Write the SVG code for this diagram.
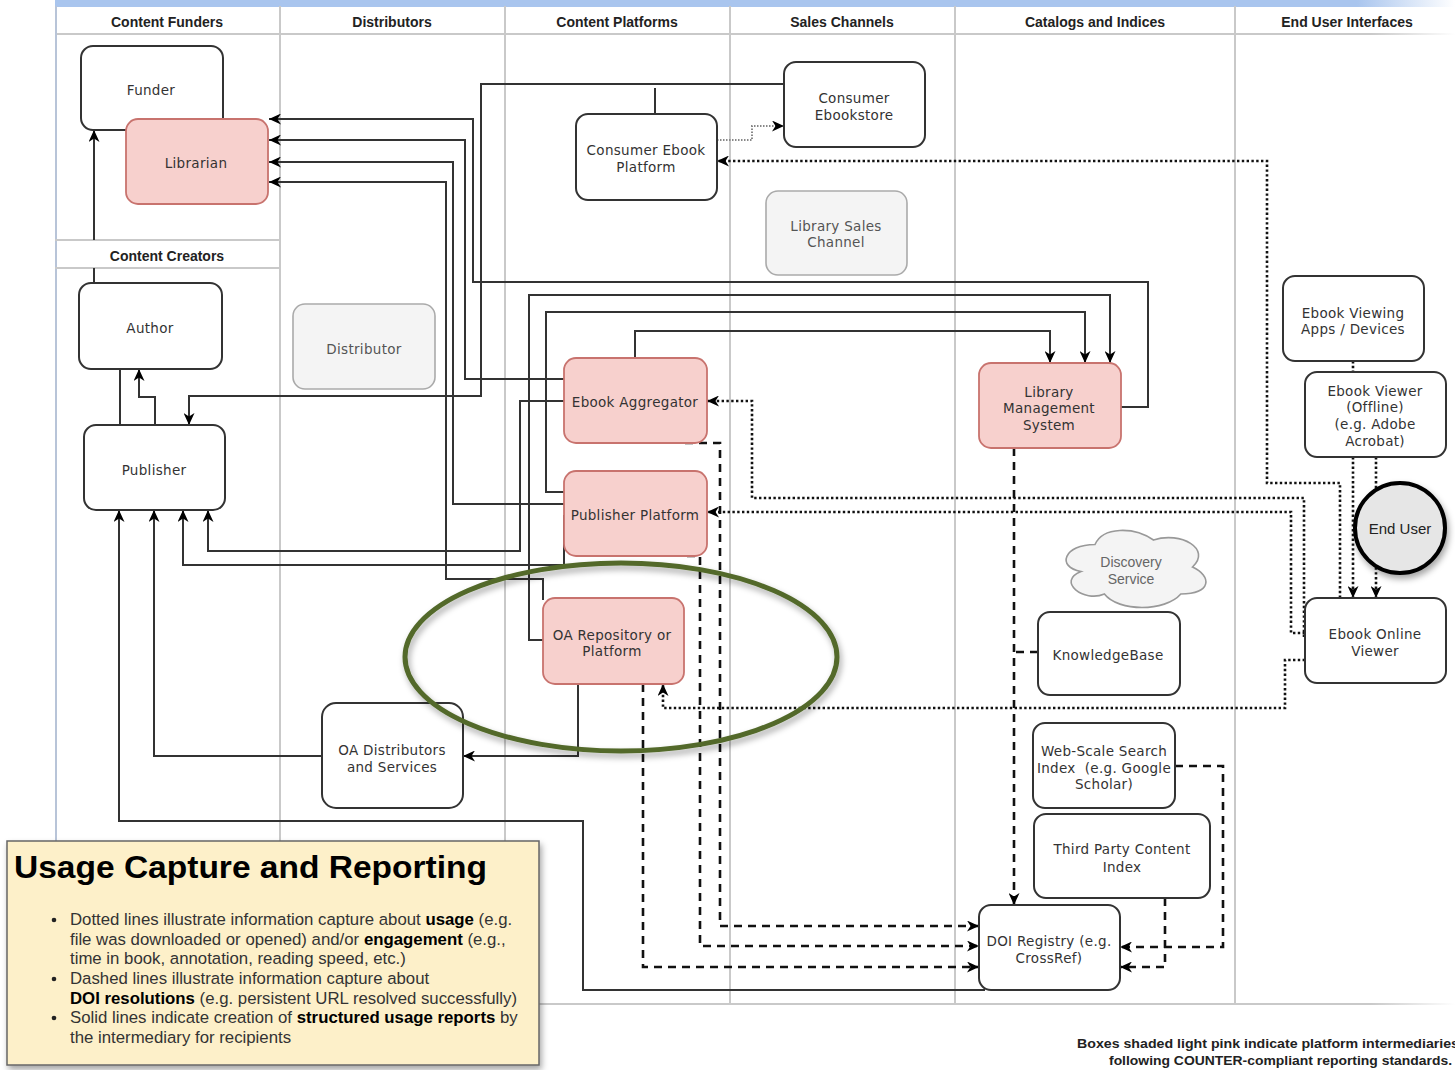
<svg xmlns="http://www.w3.org/2000/svg" width="1455" height="1070" viewBox="0 0 1455 1070">
<style>
.lane{stroke:#c9c9c9;stroke-width:2;fill:none}
.hdr{font-family:"Liberation Sans",Arial,sans-serif;font-weight:bold;font-size:14px;fill:#222;text-anchor:middle}
.n{fill:#fff;stroke:#333;stroke-width:2}
.pk{fill:#f7d0cd;stroke:#c8736e;stroke-width:1.8}
.gr{fill:#f4f4f4;stroke:#aaa;stroke-width:1.6}
.t{font-family:"DejaVu Sans",Verdana,sans-serif;font-size:13.5px;fill:#333;text-anchor:middle;letter-spacing:0.3px}
.tg{font-family:"DejaVu Sans",Verdana,sans-serif;font-size:13.5px;fill:#555;text-anchor:middle;letter-spacing:0.3px}
.sol{fill:none;stroke:#333;stroke-width:2}
.dot{fill:none;stroke:#111;stroke-width:2.6;stroke-dasharray:2.4 2.4}
.dsh{fill:none;stroke:#111;stroke-width:2.6;stroke-dasharray:8 6}
.lg{font-family:"Liberation Sans",Arial,sans-serif;font-size:16.8px;fill:#333}
.lg tspan.b{font-weight:bold;fill:#000}
.ft{font-family:"Liberation Sans",Arial,sans-serif;font-size:13.5px;font-weight:bold;fill:#222}
</style>
<defs>
<marker id="a" viewBox="0 0 12 11" refX="12" refY="5.5" markerWidth="12" markerHeight="11" markerUnits="userSpaceOnUse" orient="auto"><path d="M0,0 L12,5.5 L0,11 L3.5,5.5 Z" fill="#000"/></marker>
<linearGradient id="bar" x1="0" x2="1" y1="0" y2="0"><stop offset="0" stop-color="#a9c5ee"/><stop offset="0.93" stop-color="#a9c5ee"/><stop offset="1" stop-color="#ffffff"/></linearGradient>
<linearGradient id="hl" x1="0" x2="1" y1="0" y2="0"><stop offset="0" stop-color="#c9c9c9"/><stop offset="0.94" stop-color="#c9c9c9"/><stop offset="1" stop-color="#ffffff"/></linearGradient>
<filter id="sh" x="-20%" y="-20%" width="140%" height="150%"><feDropShadow dx="2" dy="4" stdDeviation="3" flood-color="#000" flood-opacity="0.35"/></filter>
</defs>
<rect width="1455" height="1070" fill="#fff"/>

<g id="lanes">
<rect x="55" y="0" width="1400" height="7" fill="url(#bar)"/>
<rect x="55" y="33" width="1400" height="2" fill="url(#hl)"/>
<rect x="55" y="1003" width="1400" height="2" fill="url(#hl)"/>
<line class="lane" x1="56" y1="6" x2="56" y2="1005" style="stroke:#b8c4d8"/>
<line class="lane" x1="280" y1="6" x2="280" y2="1005"/>
<line class="lane" x1="505" y1="6" x2="505" y2="1005"/>
<line class="lane" x1="730" y1="6" x2="730" y2="1005"/>
<line class="lane" x1="955" y1="6" x2="955" y2="1005"/>
<line class="lane" x1="1235" y1="6" x2="1235" y2="1005"/>
<line class="lane" x1="55" y1="240" x2="280" y2="240"/>
<line class="lane" x1="55" y1="268" x2="280" y2="268"/>
<text class="hdr" x="167" y="27">Content Funders</text>
<text class="hdr" x="392" y="27">Distributors</text>
<text class="hdr" x="617" y="27">Content Platforms</text>
<text class="hdr" x="842" y="27">Sales Channels</text>
<text class="hdr" x="1095" y="27">Catalogs and Indices</text>
<text class="hdr" x="1347" y="27">End User Interfaces</text>
<text class="hdr" x="167" y="261">Content Creators</text>
</g>

<g id="connectors">
<path class="sol" d="M1121,407 H1148 V282 H473 V119 H269" marker-end="url(#a)"/>
<path class="sol" d="M564,379 H465 V140 H269" marker-end="url(#a)"/>
<path class="sol" d="M564,504 H453 V162 H269" marker-end="url(#a)"/>
<path class="sol" d="M543,600 V579 H446 V182 H269" marker-end="url(#a)"/>
<path class="sol" d="M784,84 H481 V396 H189 V425" marker-end="url(#a)"/>
<path class="sol" d="M655,114 V88"/>
<path class="sol" d="M635,358 V331 H1050 V363" marker-end="url(#a)"/>
<path class="sol" d="M564,492 H546 V312 H1085 V363" marker-end="url(#a)"/>
<path class="sol" d="M543,640 H529 V295 H1110 V363" marker-end="url(#a)"/>
<path class="sol" d="M564,401 H520 V551 H208 V510" marker-end="url(#a)"/>
<path class="sol" d="M564,515 V565 H183 V510" marker-end="url(#a)"/>
<path class="sol" d="M322,756 H154 V510" marker-end="url(#a)"/>
<path class="sol" d="M985,990 H583 V821 H119 V510" marker-end="url(#a)"/>
<path class="sol" d="M155,425 V397 H139 V369" marker-end="url(#a)"/>
<path class="sol" d="M120,369 V425"/>
<path class="sol" d="M94,283 V268 M94,240 V130" marker-end="url(#a)"/>
<path class="sol" d="M578,684 V756 H463" marker-end="url(#a)"/>
<path d="M717,140 H752 V126 H784" fill="none" stroke="#888" stroke-width="2" stroke-dasharray="1.5 1.5" marker-end="url(#a)"/>
<path class="dot" d="M1340,598 V483 H1267 V161 H717" marker-end="url(#a)"/>
<path class="dot" d="M1353,457 V598" marker-end="url(#a)"/>
<path class="dot" d="M1376,457 V598" marker-end="url(#a)"/>
<path class="dot" d="M1353,361 V372"/>
<path class="dot" d="M1304,637 V498 H752 V401 H707" marker-end="url(#a)"/>
<path class="dot" d="M1305,633 H1291 V512 H707" marker-end="url(#a)"/>
<path class="dot" d="M1305,660 H1285 V708 H663 V684" marker-end="url(#a)"/>
<path class="dsh" d="M685,443 H720 V926 H979" marker-end="url(#a)"/>
<path class="dsh" d="M687,556 H700 V946 H979" marker-end="url(#a)"/>
<path class="dsh" d="M643,684 V967 H979" marker-end="url(#a)"/>
<path class="dsh" d="M1014,448 V905" marker-end="url(#a)"/>
<path class="dsh" d="M1038,652 H1014"/>
<path class="dsh" d="M1175,766 H1223 V947 H1120" marker-end="url(#a)"/>
<path class="dsh" d="M1165,898 V967 H1120" marker-end="url(#a)"/>
</g>

<g id="funder"><rect class="n" x="81" y="46" width="142" height="84" rx="12"/><text class="t" x="151" y="95">Funder</text></g>
<g id="librarian"><rect class="pk" x="126" y="119" width="142" height="85" rx="12"/><text class="t" x="196" y="168">Librarian</text></g>
<g id="consumer-ebook-platform"><rect class="n" x="576" y="114" width="141" height="86" rx="12"/><text class="t" x="646" y="155">Consumer Ebook</text><text class="t" x="646" y="172">Platform</text></g>
<g id="consumer-ebookstore"><rect class="n" x="784" y="62" width="141" height="85" rx="12"/><text class="t" x="854" y="103">Consumer</text><text class="t" x="854" y="120">Ebookstore</text></g>
<g id="library-sales-channel"><rect class="gr" x="766" y="191" width="141" height="84" rx="12"/><text class="tg" x="836" y="231">Library Sales</text><text class="tg" x="836" y="247">Channel</text></g>
<g id="author"><rect class="n" x="79" y="283" width="143" height="86" rx="12"/><text class="t" x="150" y="333">Author</text></g>
<g id="distributor"><rect class="gr" x="293" y="304" width="142" height="85" rx="12"/><text class="tg" x="364" y="354">Distributor</text></g>
<g id="publisher"><rect class="n" x="84" y="425" width="141" height="85" rx="12"/><text class="t" x="154" y="475">Publisher</text></g>
<g id="ebook-aggregator"><rect class="pk" x="564" y="358" width="143" height="85" rx="12"/><text class="t" x="635" y="407">Ebook Aggregator</text></g>
<g id="publisher-platform"><rect class="pk" x="564" y="471" width="143" height="85" rx="12"/><text class="t" x="635" y="520">Publisher Platform</text></g>
<g id="oa-repository"><rect class="pk" x="543" y="598" width="141" height="86" rx="12"/><text class="t" x="612" y="640">OA Repository or</text><text class="t" x="612" y="656">Platform</text></g>
<g id="oa-distributors"><rect class="n" x="322" y="703" width="141" height="105" rx="14"/><text class="t" x="392" y="755">OA Distributors</text><text class="t" x="392" y="772">and Services</text></g>
<g id="library-management-system"><rect class="pk" x="979" y="363" width="142" height="85" rx="12"/><text class="t" x="1049" y="397">Library</text><text class="t" x="1049" y="413">Management</text><text class="t" x="1049" y="430">System</text></g>
<g id="ebook-viewing-apps"><rect class="n" x="1283" y="276" width="141" height="85" rx="12"/><text class="t" x="1353" y="318">Ebook Viewing</text><text class="t" x="1353" y="334">Apps / Devices</text></g>
<g id="ebook-viewer-offline"><rect class="n" x="1305" y="372" width="141" height="85" rx="12"/><text class="t" x="1375" y="396">Ebook Viewer</text><text class="t" x="1375" y="412">(Offline)</text><text class="t" x="1375" y="429">(e.g. Adobe</text><text class="t" x="1375" y="446">Acrobat)</text></g>
<g id="end-user"><circle cx="1400" cy="528" r="45" fill="#e6e6e6" stroke="#000" stroke-width="4" filter="url(#sh)"/><text x="1400" y="534" text-anchor="middle" font-family="Liberation Sans, Arial, sans-serif" font-size="15" fill="#222">End User</text></g>
<g id="ebook-online-viewer"><rect class="n" x="1305" y="598" width="141" height="85" rx="12"/><text class="t" x="1375" y="639">Ebook Online</text><text class="t" x="1375" y="656">Viewer</text></g>
<g id="discovery-service"><path d="M1095,544.5 C1063.8,544.5 1056,567 1081,571.5 C1056,581.4 1084,603 1104.4,594 C1118.4,612 1165.2,612 1180.8,594 C1212,594 1212,576 1192.5,567 C1212,549 1180.8,531 1153.5,540 C1134,526.5 1102.8,526.5 1095,544.5 Z" fill="#f4f4f4" stroke="#999" stroke-width="1.6"/><text x="1131" y="567" text-anchor="middle" font-family="Liberation Sans, Arial, sans-serif" font-size="14" fill="#666">Discovery</text><text x="1131" y="584" text-anchor="middle" font-family="Liberation Sans, Arial, sans-serif" font-size="14" fill="#666">Service</text></g>
<g id="knowledgebase"><rect class="n" x="1038" y="612" width="142" height="83" rx="12"/><text class="t" x="1108" y="660">KnowledgeBase</text></g>
<g id="web-scale-search-index"><rect class="n" x="1033" y="723" width="142" height="85" rx="12"/><text class="t" x="1104" y="756">Web-Scale Search</text><text class="t" x="1104" y="773">Index &#160;(e.g. Google</text><text class="t" x="1104" y="789">Scholar)</text></g>
<g id="third-party-content-index"><rect class="n" x="1034" y="814" width="176" height="84" rx="12"/><text class="t" x="1122" y="854">Third Party Content</text><text class="t" x="1122" y="872">Index</text></g>
<g id="doi-registry"><rect class="n" x="979" y="905" width="141" height="85" rx="12"/><text class="t" x="1049" y="946">DOI Registry (e.g.</text><text class="t" x="1049" y="963">CrossRef)</text></g>

<g id="highlight"><ellipse cx="621" cy="657" rx="216" ry="94" fill="none" stroke="#52692a" stroke-width="5" filter="url(#sh)"/></g>

<g id="legend">
<rect x="7" y="841" width="532" height="224" fill="#fdf0c9" stroke="#666" stroke-width="1.5" filter="url(#sh)"/>
<text x="14" y="878" font-family="Liberation Sans, Arial, sans-serif" font-size="32" font-weight="bold" fill="#000" textLength="473" lengthAdjust="spacingAndGlyphs">Usage Capture and Reporting</text>
<g class="lg">
<circle cx="54" cy="920" r="2.3" fill="#222"/>
<circle cx="54" cy="979" r="2.3" fill="#222"/>
<circle cx="54" cy="1018" r="2.3" fill="#222"/>
<text x="70" y="925">Dotted lines illustrate information capture about <tspan class="b">usage</tspan> (e.g.</text>
<text x="70" y="945">file was downloaded or opened) and/or <tspan class="b">engagement</tspan> (e.g.,</text>
<text x="70" y="964">time in book, annotation, reading speed, etc.)</text>
<text x="70" y="984">Dashed lines illustrate information capture about</text>
<text x="70" y="1004"><tspan class="b">DOI resolutions</tspan> (e.g. persistent URL resolved successfully)</text>
<text x="70" y="1023">Solid lines indicate creation of <tspan class="b">structured usage reports</tspan> by</text>
<text x="70" y="1043">the intermediary for recipients</text>
</g>
</g>

<g id="footer">
<text class="ft" x="1077" y="1048" textLength="382" lengthAdjust="spacingAndGlyphs">Boxes shaded light pink indicate platform intermediaries</text>
<text class="ft" x="1109" y="1065" textLength="343" lengthAdjust="spacingAndGlyphs">following COUNTER-compliant reporting standards.</text>
</g>
</svg>
